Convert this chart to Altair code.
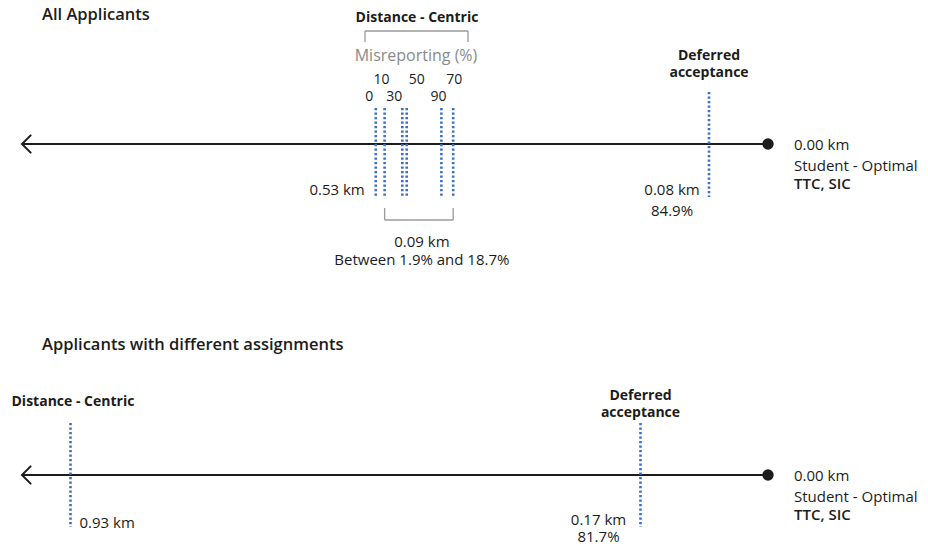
import altair as alt
import pandas as pd

FONT = "Open Sans"
BLUE = "#3b6fc6"
INK = "#1c1c1c"
GRAY = "#8a8a8a"
BR = "#9a9a9a"

# ---------------- data ----------------
# Panel 1: all applicants (distance in km from the student-optimal outcome)
mis_pct = ["0", "10", "30", "50", "70", "90"]
mis_km = [0.532, 0.520, 0.496, 0.490, 0.427, 0.443]
mis_label_row = [47, 64, 47, 64, 64, 47]          # label level above the axis
mis_label_dx = [-6.5, -3, -8, 10, 1, -3]
da_km_all = 0.08
da_share_all = "84.9%"
dc_km_all_label = "0.53 km"
gap_label = "0.09 km"
gap_range = "Between 1.9% and 18.7%"

# Panel 2: applicants with different assignments
dc_km_diff = 0.93
da_km_diff = 0.17
da_share_diff = "81.7%"

so_km = 0.0

# ---------------- scales ----------------
W, H = 912, 519
xs1 = alt.Scale(domain=[-0.20616, 1.03079], reverse=True, nice=False, zero=False)
ys1 = alt.Scale(domain=[-391, 128], nice=False, zero=False)
xs2 = alt.Scale(domain=[-0.20267, 1.01333], reverse=True, nice=False, zero=False)
ys2 = alt.Scale(domain=[-60, 459], nice=False, zero=False)

BODY = 15


def X(xs, f="km"):
    return alt.X(f"{f}:Q", scale=xs, axis=None)


def Y(ys, f="lv"):
    return alt.Y(f"{f}:Q", scale=ys, axis=None)


def label(text, km, lv, xs, ys, size=BODY, weight=400, color=INK, align="center", dx=0, **kw):
    df = pd.DataFrame({"km": [km], "lv": [lv]})
    return alt.Chart(df).mark_text(
        text=text, font=FONT, fontSize=size, fontWeight=weight, color=color,
        align=align, baseline="middle", dx=dx, **kw
    ).encode(x=X(xs), y=Y(ys))


def free_text(text, x, y, size=BODY, weight=400, color=INK, align="left"):
    return alt.Chart(pd.DataFrame({"a": [0]})).mark_text(
        text=text, font=FONT, fontSize=size, fontWeight=weight, color=color,
        align=align, baseline="middle"
    ).encode(x=alt.value(x), y=alt.value(y))


def vline(kms, top, bottom, xs, ys):
    df = pd.DataFrame({"km": kms, "top": [top] * len(kms), "bot": [bottom] * len(kms)})
    return alt.Chart(df).mark_rule(color=BLUE, strokeWidth=2.6, strokeDash=[2.2, 2.3]).encode(
        x=X(xs), y=Y(ys, "top"), y2="bot:Q"
    )


def axis_line(start_km, xs, ys):
    df = pd.DataFrame({"km": [start_km], "km2": [so_km], "lv": [0]})
    line = alt.Chart(df).mark_rule(color=INK, strokeWidth=2).encode(
        x=X(xs), x2="km2:Q", y=Y(ys)
    )
    arrow = alt.Chart(df).mark_point(
        shape="M 1 -1 L 0 0 L 1 1", size=300, filled=False, color=INK,
        strokeWidth=2, opacity=1, strokeCap="round", strokeJoin="miter"
    ).encode(x=X(xs), y=Y(ys))
    dot = alt.Chart(pd.DataFrame({"km": [so_km], "lv": [0]})).mark_point(
        filled=True, size=130, color=INK, opacity=1
    ).encode(x=X(xs), y=Y(ys))
    return [line, arrow, dot]


def right_labels(xs, ys):
    return [
        label("0.00 km", so_km, -1, xs, ys, align="left", dx=26),
        label("Student - Optimal", so_km, -22, xs, ys, align="left", dx=26),
        label("TTC, SIC", so_km, -40, xs, ys, align="left", dx=26, weight=600),
    ]


# ---------------- panel 1 ----------------
p1 = []
p1.append(free_text("All Applicants", 34, -1, size=16.5, weight=600))
p1.append(free_text("Distance - Centric", 409, 1.5, size=14, weight=700, align="center"))
# bracket above misreporting
br = pd.DataFrame({"a": [0]})
p1.append(alt.Chart(br).mark_rule(color=BR, strokeWidth=1.3).encode(
    x=alt.value(357), x2=alt.value(460), y=alt.value(15)))
p1.append(alt.Chart(br).mark_rule(color=BR, strokeWidth=1.3).encode(
    x=alt.value(357), y=alt.value(15), y2=alt.value(26)))
p1.append(alt.Chart(br).mark_rule(color=BR, strokeWidth=1.3).encode(
    x=alt.value(460), y=alt.value(15), y2=alt.value(26)))
p1.append(free_text("Misreporting (%)", 408, 40, size=16, color=GRAY, align="center"))
# percentage labels
for t, km, lv, dx in zip(mis_pct, mis_km, mis_label_row, mis_label_dx):
    p1.append(label(t, km, lv, xs1, ys1, size=14, dx=dx))
p1 += axis_line(1.0118, xs1, ys1)
p1.append(vline(mis_km, 36, -53, xs1, ys1))
p1.append(vline([da_km_all], 52, -53, xs1, ys1))
p1.append(label(dc_km_all_label, mis_km[0], -46, xs1, ys1, align="right", dx=-11))
p1.append(label(["Deferred", "acceptance"], da_km_all, 88, xs1, ys1, size=14, weight=700, lineHeight=17))
p1.append(label(f"{da_km_all:.2f} km", da_km_all, -46, xs1, ys1, dx=-37))
p1.append(label(da_share_all, da_km_all, -67, xs1, ys1, dx=-37))
# bracket under the misreporting range (10% to 70%)
k10, k70 = mis_km[1], mis_km[4]
bdf = pd.DataFrame({"km": [k10, k70], "top": [-64, -64], "bot": [-76, -76]})
p1.append(alt.Chart(bdf).mark_rule(color=BR, strokeWidth=1.3).encode(
    x=X(xs1), y=Y(ys1, "top"), y2="bot:Q"))
hdf = pd.DataFrame({"km": [k10], "km2": [k70], "lv": [-76]})
p1.append(alt.Chart(hdf).mark_rule(color=BR, strokeWidth=1.3).encode(
    x=X(xs1), x2="km2:Q", y=Y(ys1)))
mid = (k10 + k70) / 2
p1.append(label(gap_label, mid, -98, xs1, ys1, dx=3))
p1.append(label(gap_range, mid, -116, xs1, ys1, dx=3))
p1 += right_labels(xs1, ys1)

panel1 = alt.layer(*p1)

# ---------------- panel 2 ----------------
p2 = []
p2.append(free_text("Applicants with different assignments", 34, 329, size=16.5, weight=600))
p2 += axis_line(0.9947, xs2, ys2)
p2.append(vline([dc_km_diff, da_km_diff], 52, -52, xs2, ys2))
p2.append(label("Distance - Centric", dc_km_diff, 73, xs2, ys2, size=14, weight=700, align="left", dx=-59))
p2.append(label(f"{dc_km_diff:.2f} km", dc_km_diff, -48, xs2, ys2, align="left", dx=9))
p2.append(label(["Deferred", "acceptance"], da_km_diff, 79, xs2, ys2, size=14, weight=700, lineHeight=17))
p2.append(label(f"{da_km_diff:.2f} km", da_km_diff, -45, xs2, ys2, dx=-42))
p2.append(label(da_share_diff, da_km_diff, -62, xs2, ys2, dx=-42))
p2 += right_labels(xs2, ys2)

panel2 = alt.layer(*p2)

chart = alt.layer(panel1, panel2).resolve_scale(
    x="independent", y="independent"
).properties(
    width=W, height=H, background="white",
    padding={"left": 0, "top": 8, "right": 0, "bottom": 8},
    autosize=alt.AutoSizeParams(type="none"),
).configure_view(strokeWidth=0)

chart.save("out.html", embed_options={"renderer": "svg", "actions": False})
